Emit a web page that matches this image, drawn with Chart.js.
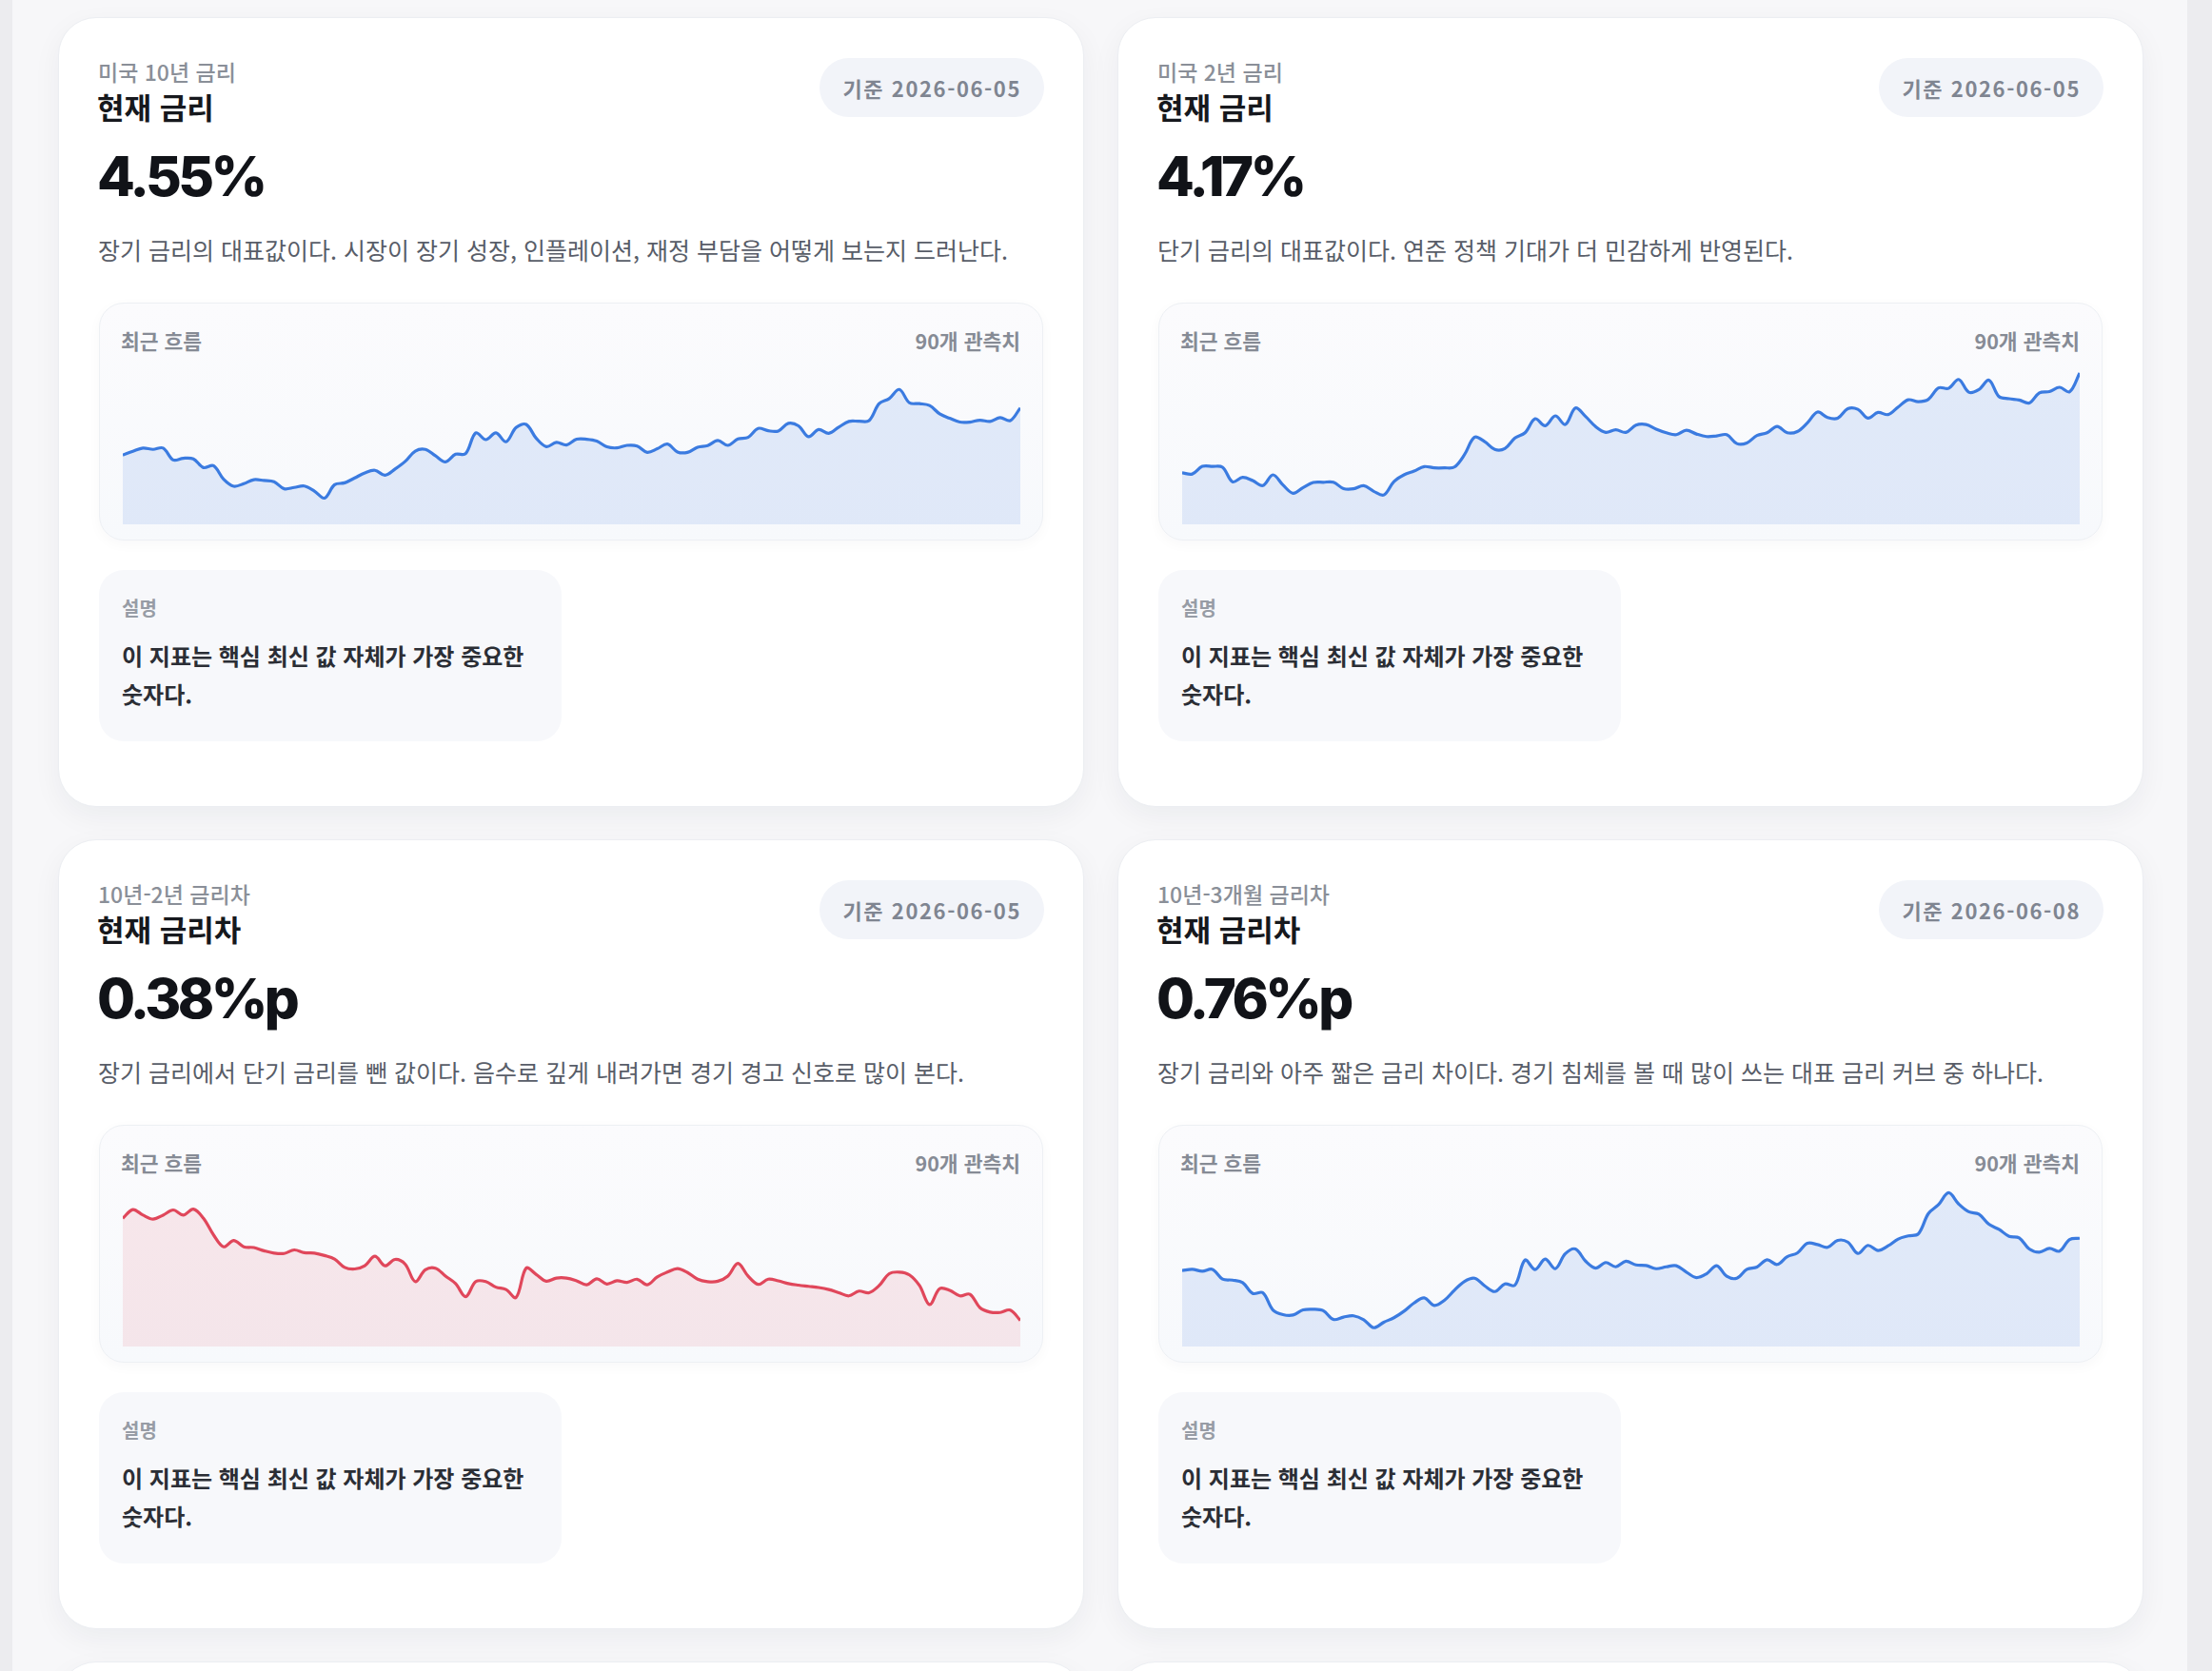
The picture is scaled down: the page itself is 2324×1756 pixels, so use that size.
<!DOCTYPE html>
<html lang="ko">
<head>
<meta charset="utf-8">
<title>금리 카드</title>
<script src="https://cdn.jsdelivr.net/npm/chart.js@4.4.1/dist/chart.umd.min.js"></script>
<style>
  html, body { margin: 0; padding: 0; }
  body {
    width: 2324px; height: 1756px; overflow: hidden; position: relative;
    background: #ececef;
    font-family: "Noto Sans CJK KR", "Noto Sans", sans-serif;
  }
  .page { position: absolute; left: 13px; top: 0; width: 2285px; height: 1756px; background: #f7f7f9; }
  .card {
    position: absolute; width: 1078px; height: 830px; box-sizing: border-box;
    background: #fff; border: 1px solid #eceef2; border-radius: 40px;
    box-shadow: 0 10px 30px rgba(20, 30, 50, 0.05);
  }
  .card > div { position: absolute; }
  .eyebrow { left: 41px; top: 41px; font-size: 23px; line-height: 30px; font-weight: 500; color: #8a8f98; }
  .title { left: 40px; top: 74px; font-size: 31px; line-height: 38px; font-weight: 700; color: #16181d; }
  .value { left: 40px; top: 136px; font-family: Inter, sans-serif; font-size: 58px; line-height: 60px; font-weight: 800; letter-spacing: -3.6px; color: #111318; }
  .desc { left: 41px; top: 226px; font-size: 25px; line-height: 34px; color: #585d68; white-space: nowrap; }
  .badge {
    right: 41px; top: 42px; height: 62px; padding: 0 24px; border-radius: 31px;
    background: #f2f4f9; color: #7f8591; font-size: 22px; line-height: 62px; font-weight: 700; letter-spacing: 1.6px;
  }
  .panel {
    left: 42px; top: 299px; width: 992px; height: 250px; box-sizing: border-box;
    border: 1px solid #edf0f4; border-radius: 26px;
    background: linear-gradient(180deg, #fbfbfd 0%, #f7f9fc 100%);
    box-shadow: 0 4px 14px rgba(20, 30, 50, 0.03);
  }
  .panel .head { position: absolute; left: 22px; right: 23px; top: 23px; height: 32px; line-height: 32px; font-size: 21.5px; font-weight: 700; color: #868b95; }
  .panel .head span { position: absolute; top: 0; }
  .panel canvas { position: absolute; left: 24px; top: 54px; }
  .note {
    left: 42px; top: 580px; width: 486px; height: 180px; box-sizing: border-box;
    border-radius: 26px; background: #f7f8fb; padding: 25px 24px;
  }
  .note .k { font-size: 20px; line-height: 30px; font-weight: 700; color: #979ca5; }
  .note .t { margin-top: 15px; font-size: 24px; line-height: 40px; font-weight: 700; color: #2b2e35; white-space: nowrap; }
</style>
</head>
<body>
<div class="page"></div>

<div class="card" style="left:61px; top:18px;">
  <div class="eyebrow">미국 10년 금리</div>
  <div class="title">현재 금리</div>
  <div class="value">4.55%</div>
  <div class="desc">장기 금리의 대표값이다. 시장이 장기 성장, 인플레이션, 재정 부담을 어떻게 보는지 드러난다.</div>
  <div class="badge">기준 2026-06-05</div>
  <div class="panel"><div class="head"><span style="left:0">최근 흐름</span><span style="right:0">90개 관측치</span></div><canvas id="c10y" width="943" height="178"></canvas></div>
  <div class="note"><div class="k">설명</div><div class="t">이 지표는 핵심 최신 값 자체가 가장 중요한<br>숫자다.</div></div>
</div>

<div class="card" style="left:1174px; top:18px;">
  <div class="eyebrow">미국 2년 금리</div>
  <div class="title">현재 금리</div>
  <div class="value">4.17%</div>
  <div class="desc">단기 금리의 대표값이다. 연준 정책 기대가 더 민감하게 반영된다.</div>
  <div class="badge">기준 2026-06-05</div>
  <div class="panel"><div class="head"><span style="left:0">최근 흐름</span><span style="right:0">90개 관측치</span></div><canvas id="c2y" width="943" height="178"></canvas></div>
  <div class="note"><div class="k">설명</div><div class="t">이 지표는 핵심 최신 값 자체가 가장 중요한<br>숫자다.</div></div>
</div>

<div class="card" style="left:61px; top:882px;">
  <div class="eyebrow">10년-2년 금리차</div>
  <div class="title">현재 금리차</div>
  <div class="value">0.38%p</div>
  <div class="desc">장기 금리에서 단기 금리를 뺀 값이다. 음수로 깊게 내려가면 경기 경고 신호로 많이 본다.</div>
  <div class="badge">기준 2026-06-05</div>
  <div class="panel"><div class="head"><span style="left:0">최근 흐름</span><span style="right:0">90개 관측치</span></div><canvas id="c102" width="943" height="178"></canvas></div>
  <div class="note"><div class="k">설명</div><div class="t">이 지표는 핵심 최신 값 자체가 가장 중요한<br>숫자다.</div></div>
</div>

<div class="card" style="left:1174px; top:882px;">
  <div class="eyebrow">10년-3개월 금리차</div>
  <div class="title">현재 금리차</div>
  <div class="value">0.76%p</div>
  <div class="desc">장기 금리와 아주 짧은 금리 차이다. 경기 침체를 볼 때 많이 쓰는 대표 금리 커브 중 하나다.</div>
  <div class="badge">기준 2026-06-08</div>
  <div class="panel"><div class="head"><span style="left:0">최근 흐름</span><span style="right:0">90개 관측치</span></div><canvas id="c103m" width="943" height="178"></canvas></div>
  <div class="note"><div class="k">설명</div><div class="t">이 지표는 핵심 최신 값 자체가 가장 중요한<br>숫자다.</div></div>
</div>

<div class="card" style="left:61px; top:1746px;"></div>
<div class="card" style="left:1174px; top:1746px;"></div>

<script>
const obs = Array.from({ length: 90 }, (_, i) => i + 1);

const us10y = [
  4.327, 4.345, 4.360, 4.354, 4.360, 4.304, 4.312, 4.309, 4.268, 4.277,
  4.213, 4.180, 4.192, 4.211, 4.207, 4.201, 4.168, 4.174, 4.181, 4.157,
  4.124, 4.187, 4.196, 4.219, 4.243, 4.255, 4.232, 4.261, 4.297, 4.346,
  4.354, 4.324, 4.295, 4.331, 4.334, 4.432, 4.400, 4.432, 4.390, 4.457,
  4.472, 4.406, 4.367, 4.387, 4.375, 4.402, 4.402, 4.393, 4.366, 4.361,
  4.373, 4.370, 4.340, 4.357, 4.379, 4.342, 4.340, 4.364, 4.372, 4.396,
  4.373, 4.403, 4.411, 4.453, 4.442, 4.441, 4.477, 4.465, 4.414, 4.448,
  4.430, 4.459, 4.486, 4.487, 4.490, 4.570, 4.594, 4.637, 4.574, 4.570,
  4.561, 4.522, 4.501, 4.483, 4.483, 4.492, 4.486, 4.504, 4.490, 4.550
];

const us2y = [
  3.699, 3.693, 3.729, 3.729, 3.725, 3.656, 3.677, 3.662, 3.638, 3.689,
  3.641, 3.602, 3.629, 3.653, 3.654, 3.654, 3.624, 3.623, 3.638, 3.611,
  3.594, 3.657, 3.689, 3.707, 3.728, 3.722, 3.722, 3.726, 3.785, 3.867,
  3.846, 3.809, 3.813, 3.863, 3.888, 3.954, 3.921, 3.968, 3.927, 4.005,
  3.965, 3.917, 3.890, 3.902, 3.890, 3.924, 3.927, 3.905, 3.888, 3.879,
  3.900, 3.882, 3.870, 3.873, 3.879, 3.837, 3.840, 3.875, 3.888, 3.918,
  3.888, 3.894, 3.935, 3.986, 3.960, 3.957, 4.002, 3.999, 3.957, 3.984,
  3.974, 4.010, 4.044, 4.035, 4.046, 4.100, 4.098, 4.140, 4.080, 4.092,
  4.137, 4.059, 4.049, 4.043, 4.029, 4.077, 4.083, 4.103, 4.082, 4.170
];

const spread10y2y = [
  0.638, 0.660, 0.646, 0.636, 0.646, 0.659, 0.646, 0.661, 0.638, 0.596,
  0.566, 0.582, 0.566, 0.564, 0.556, 0.550, 0.549, 0.558, 0.551, 0.550,
  0.544, 0.535, 0.514, 0.510, 0.518, 0.542, 0.518, 0.534, 0.522, 0.478,
  0.508, 0.512, 0.492, 0.473, 0.440, 0.478, 0.478, 0.464, 0.458, 0.438,
  0.512, 0.496, 0.479, 0.487, 0.487, 0.480, 0.470, 0.485, 0.472, 0.480,
  0.476, 0.484, 0.470, 0.490, 0.502, 0.511, 0.501, 0.484, 0.478, 0.479,
  0.492, 0.524, 0.492, 0.471, 0.484, 0.480, 0.473, 0.469, 0.466, 0.463,
  0.458, 0.450, 0.442, 0.454, 0.450, 0.468, 0.498, 0.502, 0.495, 0.468,
  0.420, 0.460, 0.456, 0.442, 0.446, 0.412, 0.401, 0.400, 0.406, 0.380
];

const spread10y3m = [
  0.607, 0.613, 0.604, 0.613, 0.567, 0.562, 0.550, 0.499, 0.502, 0.421,
  0.399, 0.397, 0.421, 0.424, 0.417, 0.376, 0.387, 0.393, 0.375, 0.337,
  0.363, 0.384, 0.415, 0.454, 0.478, 0.442, 0.466, 0.514, 0.556, 0.571,
  0.535, 0.508, 0.544, 0.538, 0.657, 0.612, 0.661, 0.616, 0.687, 0.709,
  0.652, 0.619, 0.645, 0.625, 0.651, 0.634, 0.631, 0.616, 0.625, 0.630,
  0.600, 0.574, 0.592, 0.630, 0.580, 0.571, 0.613, 0.624, 0.658, 0.636,
  0.673, 0.690, 0.736, 0.730, 0.717, 0.750, 0.742, 0.688, 0.726, 0.702,
  0.724, 0.756, 0.771, 0.781, 0.877, 0.919, 0.975, 0.922, 0.885, 0.874,
  0.826, 0.802, 0.769, 0.762, 0.709, 0.694, 0.712, 0.699, 0.754, 0.760
];

// y axis domain of each sparkline [min, max]
const range10y = [4.000, 4.800];
const range2y = [3.455, 4.256];
const range10y2y = [0.314, 0.742];
const range10y3m = [0.248, 1.049];

const BLUE = '#3b7be0';
const BLUE_FILL = 'rgba(59, 123, 224, 0.13)';
const RED = '#e0475b';
const RED_FILL = 'rgba(224, 71, 91, 0.11)';

function sparkline(id, values, range, line, fill) {
    new Chart(document.getElementById(id), {
        type: 'line',
        data: {
            labels: obs,
            datasets: [{
                data: values,
                borderColor: line,
                backgroundColor: fill,
                borderWidth: 3.2,
                fill: 'start',
                tension: 0.35,
                pointRadius: 0
            }]
        },
        options: {
            responsive: false,
            animation: false,
            layout: { padding: 0 },
            plugins: { legend: { display: false }, tooltip: { enabled: false } },
            scales: {
                x: { display: false, offset: false },
                y: { display: false, min: range[0], max: range[1] }
            }
        }
    });
}

sparkline('c10y', us10y, range10y, BLUE, BLUE_FILL);
sparkline('c2y', us2y, range2y, BLUE, BLUE_FILL);
sparkline('c102', spread10y2y, range10y2y, RED, RED_FILL);
sparkline('c103m', spread10y3m, range10y3m, BLUE, BLUE_FILL);
</script>
</body>
</html>
